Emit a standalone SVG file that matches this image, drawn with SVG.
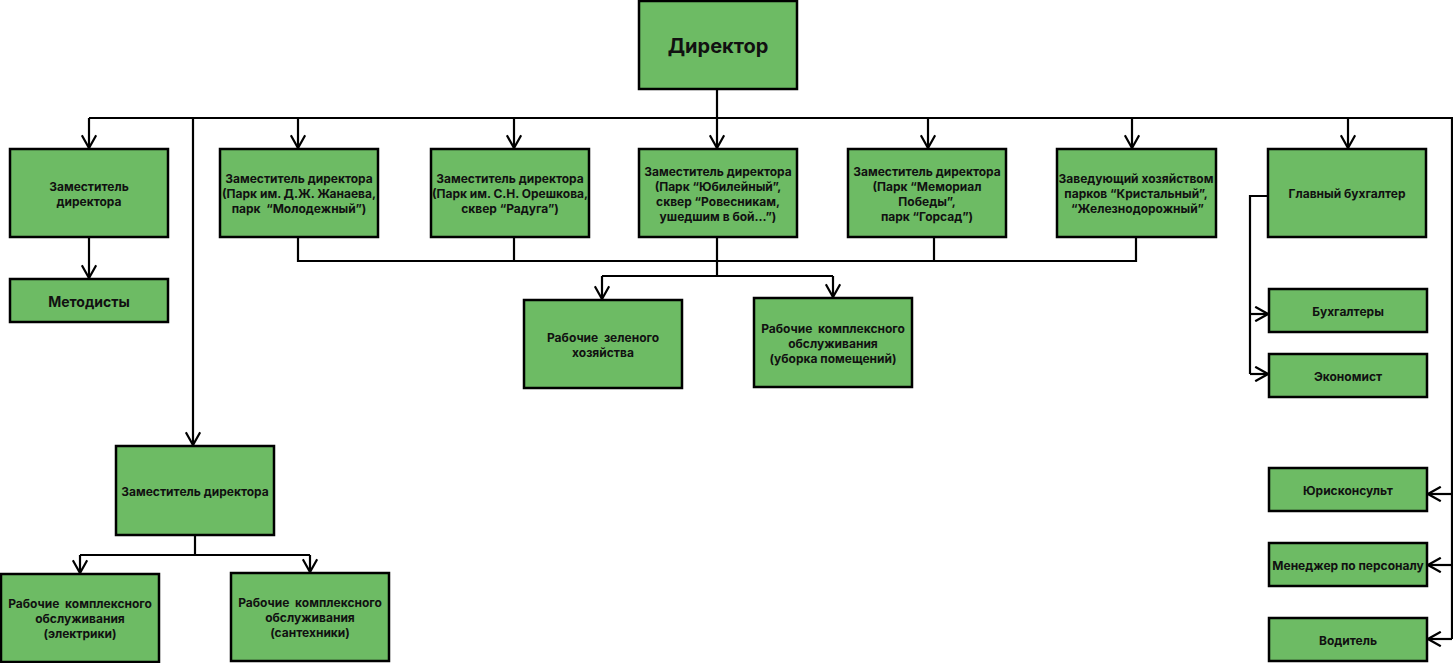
<svg xmlns="http://www.w3.org/2000/svg" width="1453" height="663" viewBox="0 0 1453 663">
<style>
.b{fill:#6dbb64;stroke:#000;stroke-width:2.5}
text{font-family:Inter,Roboto,"Liberation Sans",sans-serif;font-weight:bold;font-size:12px;fill:#111;text-anchor:middle;dominant-baseline:central;white-space:pre}
.c{fill:none;stroke:#000;stroke-width:2.2}
.big{font-size:20px}
.m{font-size:14px}
</style>
<defs>
<marker id="a" viewBox="0 0 10 10" refX="9" refY="5" markerWidth="16" markerHeight="16" markerUnits="userSpaceOnUse" orient="auto">
<path d="M1,0.5 L9,5 L1,9.5" fill="none" stroke="#000" stroke-width="1.4"/>
</marker>
</defs>
<g id="connectors" class="c">
<path d="M717,89 V118"/>
<path d="M89,118 H1452 V639"/>
<path d="M89,118 V148" marker-end="url(#a)"/>
<path d="M298,118 V148" marker-end="url(#a)"/>
<path d="M514,118 V148" marker-end="url(#a)"/>
<path d="M717,118 V148" marker-end="url(#a)"/>
<path d="M928,118 V148" marker-end="url(#a)"/>
<path d="M1132,118 V148" marker-end="url(#a)"/>
<path d="M1348,118 V148" marker-end="url(#a)"/>
<path d="M193,118 V445" marker-end="url(#a)"/>
<path d="M89,237 V278" marker-end="url(#a)"/>
<path d="M298,237 V261 H1136 V237"/>
<path d="M514,237 V261"/>
<path d="M717,237 V276"/>
<path d="M934,237 V261"/>
<path d="M602,276 H833"/>
<path d="M602,276 V299" marker-end="url(#a)"/>
<path d="M833,276 V297" marker-end="url(#a)"/>
<path d="M195,535 V555"/>
<path d="M80,555 H310"/>
<path d="M80,555 V573" marker-end="url(#a)"/>
<path d="M310,555 V572" marker-end="url(#a)"/>
<path d="M1268,196 H1250 V374"/>
<path d="M1250,314 H1268" marker-end="url(#a)"/>
<path d="M1250,374 H1268" marker-end="url(#a)"/>
<path d="M1452,494 H1428" marker-end="url(#a)"/>
<path d="M1452,565 H1428" marker-end="url(#a)"/>
<path d="M1452,639 H1428" marker-end="url(#a)"/>
</g>
<g id="director"><rect class="b" x="639" y="1" width="158" height="88"/><text class="big" x="718" y="46">Директор</text></g>
<g id="dep1"><rect class="b" x="10" y="149" width="158" height="88"/><text x="89" y="186">Заместитель</text><text x="89" y="201">директора</text></g>
<g id="methodists"><rect class="b" x="10" y="279" width="158" height="43"/><text class="m" x="89" y="301">Методисты</text></g>
<g id="dep2"><rect class="b" x="220" y="149" width="158" height="88"/><text x="299" y="178">Заместитель директора</text><text x="299" y="193">(Парк им. Д.Ж. Жанаева,</text><text x="299" y="208">парк  “Молодежный”)</text></g>
<g id="dep3"><rect class="b" x="431" y="149" width="158" height="88"/><text x="510" y="178">Заместитель директора</text><text x="510" y="193">(Парк им. С.Н. Орешкова,</text><text x="510" y="208">сквер “Радуга”)</text></g>
<g id="dep4"><rect class="b" x="639" y="149" width="158" height="88"/><text x="718" y="171">Заместитель директора</text><text x="718" y="186">(Парк “Юбилейный”,</text><text x="718" y="201">сквер “Ровесникам,</text><text x="718" y="216">ушедшим в бой...”)</text></g>
<g id="dep5"><rect class="b" x="848" y="149" width="158" height="88"/><text x="927" y="171">Заместитель директора</text><text x="927" y="186">(Парк “Мемориал</text><text x="927" y="201">Победы”,</text><text x="927" y="216">парк “Горсад”)</text></g>
<g id="head"><rect class="b" x="1057" y="149" width="159" height="88"/><text x="1136" y="178">Заведующий хозяйством</text><text x="1136" y="193">парков “Кристальный”,</text><text x="1136" y="208"> “Железнодорожный”</text></g>
<g id="chief-acc"><rect class="b" x="1268" y="149" width="158" height="88"/><text x="1347" y="193">Главный бухгалтер</text></g>
<g id="green"><rect class="b" x="524" y="300" width="158" height="88"/><text x="603" y="337">Рабочие  зеленого</text><text x="603" y="352">хозяйства</text></g>
<g id="cleaning"><rect class="b" x="754" y="298" width="158" height="89"/><text x="833" y="328">Рабочие  комплексного</text><text x="833" y="343">обслуживания</text><text x="833" y="358">(уборка помещений)</text></g>
<g id="dep6"><rect class="b" x="116" y="446" width="158" height="89"/><text x="195" y="491">Заместитель директора</text></g>
<g id="electric"><rect class="b" x="1" y="574" width="158" height="88"/><text x="80" y="603">Рабочие  комплексного</text><text x="80" y="618">обслуживания</text><text x="80" y="633">(электрики)</text></g>
<g id="plumb"><rect class="b" x="231" y="573" width="158" height="88"/><text x="310" y="602">Рабочие  комплексного</text><text x="310" y="617">обслуживания</text><text x="310" y="632">(сантехники)</text></g>
<g id="acc"><rect class="b" x="1269" y="289" width="158" height="43"/><text x="1348" y="311">Бухгалтеры</text></g>
<g id="econ"><rect class="b" x="1269" y="354" width="158" height="43"/><text x="1348" y="376">Экономист</text></g>
<g id="lawyer"><rect class="b" x="1269" y="468" width="158" height="43"/><text x="1348" y="490">Юрисконсульт</text></g>
<g id="hr"><rect class="b" x="1269" y="543" width="158" height="43"/><text x="1348" y="565">Менеджер по персоналу</text></g>
<g id="driver"><rect class="b" x="1269" y="618" width="158" height="43"/><text x="1348" y="640">Водитель</text></g>
</svg>
